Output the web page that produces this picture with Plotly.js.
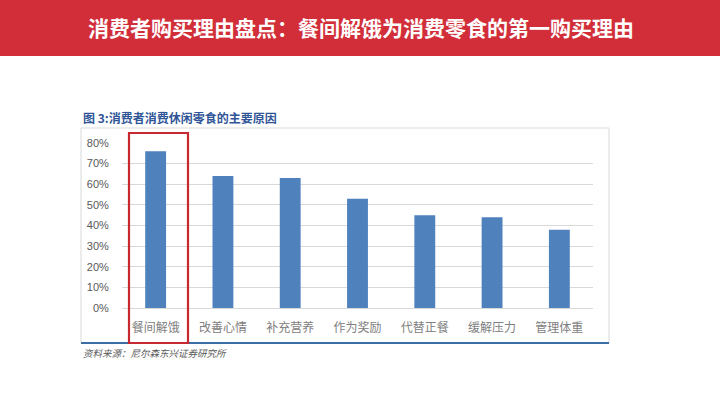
<!DOCTYPE html>
<html>
<head>
<meta charset="utf-8">
<script src="https://cdn.plot.ly/plotly-3.0.1.min.js"></script>
<style>html,body{margin:0;padding:0;background:#fff;}#chart{width:720px;height:405px;}</style>
</head>
<body>
<div id="chart"></div>
<script>
const categories = ["餐间解饿", "改善心情", "补充营养", "作为奖励", "代替正餐", "缓解压力", "管理体重"];
const values = [0.76, 0.64, 0.63, 0.53, 0.45, 0.44, 0.38];
const yTicks = [0, 0.1, 0.2, 0.3, 0.4, 0.5, 0.6, 0.7, 0.8];
const yTickLabels = ["0%", "10%", "20%", "30%", "40%", "50%", "60%", "70%", "80%"];
const pageTitle = "消费者购买理由盘点：餐间解饿为消费零食的第一购买理由";
const chartTitle = "图 3:消费者消费休闲零食的主要原因";
const sourceNote = "资料来源：尼尔森东兴证券研究所";

// plot area in pixels
const L = 122, R = 593, T = 143, B = 308;
const xp = px => (px - L) / (R - L);
const yp = py => (B - py) / (B - T);

const cjk = '"Noto Sans CJK SC", "Liberation Sans", sans-serif';

const trace = {
  type: "bar",
  x: categories,
  y: values,
  marker: {color: "#4F81BD"},
  hoverinfo: "skip"
};

const layout = {
  width: 720, height: 405,
  margin: {l: L, r: 720 - R, t: T, b: 405 - B, pad: 0},
  paper_bgcolor: "#ffffff",
  plot_bgcolor: "rgba(0,0,0,0)",
  showlegend: false,
  bargap: 0.69,
  xaxis: {
    type: "category",
    showgrid: false, zeroline: false, showline: false,
    ticks: "outside", ticklen: 9, tickcolor: "rgba(0,0,0,0)",
    tickfont: {family: cjk, size: 12, color: "#808080"}
  },
  yaxis: {
    range: [0, 0.8],
    tickvals: yTicks, ticktext: yTickLabels,
    showgrid: true, gridcolor: "#D9D9D9", gridwidth: 1,
    zeroline: true, zerolinecolor: "#D9D9D9", zerolinewidth: 1,
    showline: false,
    ticks: "outside", ticklen: 10, tickcolor: "rgba(0,0,0,0)",
    tickfont: {family: '"Liberation Sans", Arial, sans-serif', size: 11, color: "#595959"}
  },
  shapes: [
    // header band
    {type: "rect", xref: "paper", yref: "paper", x0: xp(0), x1: xp(720), y0: yp(56), y1: yp(0),
     fillcolor: "#D12E39", line: {width: 0}, layer: "below"},
    // chart frame
    {type: "rect", xref: "paper", yref: "paper", x0: xp(81), x1: xp(609), y0: yp(343), y1: yp(128),
     fillcolor: "rgba(0,0,0,0)", line: {color: "#D9D9D9", width: 1}, layer: "below"},
    // bottom blue rule
    {type: "line", xref: "paper", yref: "paper", x0: xp(81), x1: xp(609), y0: yp(343), y1: yp(343),
     line: {color: "#3A6EA5", width: 2}},
    // red highlight box
    {type: "rect", xref: "paper", yref: "paper", x0: xp(129), x1: xp(188), y0: yp(343), y1: yp(133),
     fillcolor: "rgba(0,0,0,0)", line: {color: "#C8282F", width: 2.2}}
  ],
  annotations: [
    {text: "<b>" + pageTitle + "</b>", xref: "paper", yref: "paper", x: xp(361), y: yp(27),
     xanchor: "center", yanchor: "middle", showarrow: false,
     font: {family: cjk, size: 21, color: "#ffffff"}},
    {text: "<b>" + chartTitle + "</b>", xref: "paper", yref: "paper", x: xp(81), y: yp(117),
     xanchor: "left", yanchor: "middle", showarrow: false,
     font: {family: cjk, size: 12, color: "#2F5597"}},
    {text: "<i>" + sourceNote + "</i>", xref: "paper", yref: "paper", x: xp(81), y: yp(353),
     xanchor: "left", yanchor: "middle", showarrow: false,
     font: {family: cjk, size: 9.5, color: "#595959"}}
  ]
};

Plotly.newPlot("chart", [trace], layout, {staticPlot: true, displayModeBar: false});
</script>
</body>
</html>
